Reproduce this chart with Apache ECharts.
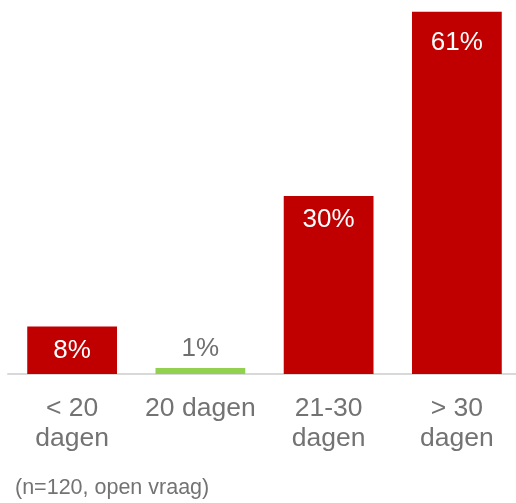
<!DOCTYPE html>
<html>
<head>
<meta charset="utf-8">
<script src="https://cdn.jsdelivr.net/npm/echarts@6/dist/echarts.min.js"></script>
<style>html,body{margin:0;padding:0;background:#fff;overflow:hidden;width:516px;height:503px}#c{width:526px;height:503px}</style>
</head>
<body>
<div id="c"></div>
<script>
var categories = ['< 20\ndagen', '20 dagen', '21-30\ndagen', '> 30\ndagen'];
var values = [8, 1, 30, 61];
var colors = ['#C00000', '#92D050', '#C00000', '#C00000'];
var footnote = '(n=120, open vraag)';

var chart = echarts.init(document.getElementById('c'), null, {renderer: 'canvas'});
var font = '"Liberation Sans", Arial, sans-serif';
var data = values.map(function (v, i) {
  var red = colors[i] === '#C00000';
  return {
    value: v,
    itemStyle: {color: colors[i]},
    label: red ? {position: 'insideTop', color: '#ffffff', distance: v > 50 ? 18 : 11}
               : {position: 'top', color: '#707070', distance: 6}
  };
});
chart.setOption({
  animation: false,
  grid: {left: 8, width: 513, top: 0, bottom: 129, containLabel: false},
  xAxis: {
    type: 'category',
    data: categories,
    axisLine: {lineStyle: {color: '#d9d9d9', width: 2}},
    axisTick: {show: false},
    axisLabel: {color: '#737373', fontSize: 26.5, fontFamily: font, lineHeight: 30, margin: 20, interval: 0}
  },
  yAxis: {type: 'value', min: 0, max: 63, show: false, splitLine: {show: false}},
  series: [{
    type: 'bar',
    data: data,
    barWidth: '70%',
    label: {show: true, fontSize: 26, fontFamily: font, formatter: '{c}%'}
  }],
  graphic: [{
    type: 'text', left: 15, top: 477,
    style: {text: footnote, fill: '#737373', fontSize: 21.5, fontFamily: font}
  }]
});
</script>
</body>
</html>
